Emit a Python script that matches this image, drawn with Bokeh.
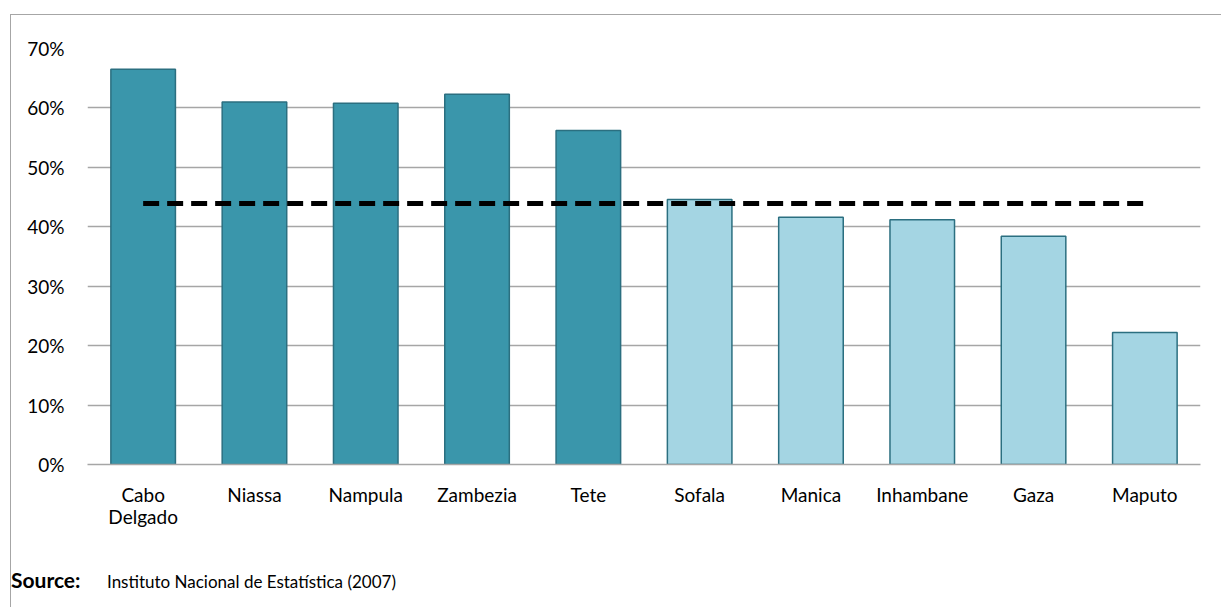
from bokeh.plotting import figure
from bokeh.layouts import column
from bokeh.models import (FactorRange, Range1d, ColumnDataSource, Div,
                          NumeralTickFormatter, FixedTicker, CategoricalAxis, CustomJSTickFormatter)
from bokeh.embed import file_html
from bokeh.resources import INLINE

provinces = ["Cabo Delgado", "Niassa", "Nampula", "Zambezia", "Tete",
             "Sofala", "Manica", "Inhambane", "Gaza", "Maputo"]
poverty = [0.665, 0.610, 0.608, 0.623, 0.562, 0.446, 0.416, 0.412, 0.384, 0.222]
group = ["high", "high", "high", "high", "high", "low", "low", "low", "low", "low"]
national_avg = 0.439
y_ticks = [0, 0.1, 0.2, 0.3, 0.4, 0.5, 0.6, 0.7]
source_label = "Source:"
source_text = "Instituto Nacional de Estatística (2007)"

colors = {"high": "#3A96AB", "low": "#A4D5E3"}
FONT = "Lato"
FS = "19px"
GRID = "#A6A6A6"

src = ColumnDataSource(dict(x=provinces, y=poverty,
                            c=[colors[g] for g in group]))

p = figure(width=1210, height=545, output_backend="svg", toolbar_location=None,
           x_range=FactorRange(*provinces, range_padding=0),
           y_range=Range1d(0, 0.7),
           min_border_left=76, min_border_right=21, min_border_top=33, min_border_bottom=96)
p.outline_line_color = None
p.background_fill_color = "white"
p.border_fill_color = "white"

p.vbar(x="x", top="y", width=0.58, source=src, fill_color="c",
       line_color="#2B6F80", line_width=1.5)

p.line(x=[provinces[0], provinces[-1]], y=[national_avg, national_avg],
       line_color="black", line_width=5, line_dash="16 8")

p.xgrid.grid_line_color = None
p.ygrid.grid_line_color = GRID
p.ygrid.grid_line_width = 1.5

p.yaxis.ticker = FixedTicker(ticks=y_ticks)
p.yaxis.formatter = NumeralTickFormatter(format="0%")
p.yaxis.axis_line_color = None
p.yaxis.major_tick_line_color = None
p.yaxis.minor_tick_line_color = None
p.yaxis.major_label_standoff = 17
p.yaxis.major_label_text_font = FONT
p.yaxis.major_label_text_font_size = FS
p.yaxis.major_label_text_color = "#000000"

p.xaxis.axis_line_color = GRID
p.xaxis.axis_line_width = 1.5
p.xaxis.major_tick_line_color = None
p.xaxis.minor_tick_line_color = None
p.xaxis.major_label_standoff = 12
p.xaxis.major_label_text_font = FONT
p.xaxis.major_label_text_font_size = FS
p.xaxis.major_label_text_color = "#000000"
p.xaxis.formatter = CustomJSTickFormatter(code="return tick == 'Cabo Delgado' ? 'Cabo' : tick;")

ax2 = CategoricalAxis(axis_line_color=None, major_tick_line_color=None,
                      minor_tick_line_color=None, major_label_standoff=-10,
                      major_label_text_font=FONT, major_label_text_font_size=FS,
                      major_label_text_color="#000000",
                      formatter=CustomJSTickFormatter(code="return tick == 'Cabo Delgado' ? 'Delgado' : '';"))
p.add_layout(ax2, "below")

div = Div(text=f'<span style="font-weight:bold;font-size:21px;display:inline-block;width:96px">{source_label}</span>'
               f'{source_text}',
          width=1210, height=47, margin=0,
          styles={"font-family": FONT, "font-size": "17px", "color": "black",
                  "padding-top": "5px", "background": "white"})

layout = column(p, div, margin=(14, 0, 0, 10), spacing=0,
                styles={"border-top": f"1.5px solid {GRID}", "border-left": f"1.5px solid {GRID}"})

open("out.html", "w").write(file_html(layout, INLINE))
